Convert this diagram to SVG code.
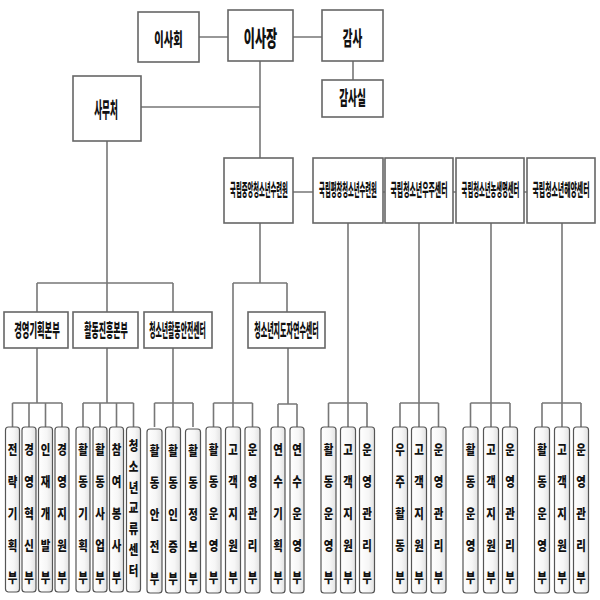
<svg xmlns="http://www.w3.org/2000/svg" width="600" height="600" viewBox="0 0 600 600">
<defs>
<linearGradient id="lg" x1="0" y1="0" x2="1" y2="0">
<stop offset="0" stop-color="#ffffff"/>
<stop offset="0.6" stop-color="#f6f6f6"/>
<stop offset="1" stop-color="#e2e2e2"/>
</linearGradient>
</defs>
<style>
.bx{fill:#fff;stroke:#666;stroke-width:1.6}
.lf{fill:url(#lg);stroke:#555;stroke-width:1.2}
.t{font-family:"Noto Sans CJK KR","Noto Sans",sans-serif;font-weight:900;fill:#111;text-anchor:middle}
.lt{font-family:"Noto Sans CJK KR","Noto Sans",sans-serif;font-weight:900;fill:#111;text-anchor:middle;font-size:13px}
.cn{fill:none;stroke:#777;stroke-width:1.6}
</style>
<rect width="600" height="600" fill="#fff"/>
<g id="connectors" class="cn">
<path d="M199,37 H228 M293,37 H322 M353,61 V80 M260,61 V158 M141,107 H260 M107,141 V312 M37,283 H173 M37,283 V312 M173,283 V312 M37,348 V403 M107,348 V403 M173,348 V427"/>
<path d="M260,223 V283 M233,283 H287 M233,283 V427 M287,283 V312 M288,348 V404"/>
<path d="M293,192 H313 M383,192 H385 M453,192 H456 M524,192 H527 M348,223 V427 M419,223 V427 M491,223 V427 M562,223 V427"/>
<path d="M12.5,403 H62 M12.5,403 V427 M29,403 V427 M45.5,403 V427 M62,403 V427"/>
<path d="M83,403 H133.5 M83,403 V427 M100,403 V427 M116.5,403 V427 M133.5,403 V427"/>
<path d="M154.5,403 H193 M154.5,403 V427 M193,403 V427"/>
<path d="M213.5,403 H252.5 M213.5,403 V427 M252.5,403 V427"/>
<path d="M278,404 H297 M278,404 V427 M297,404 V427"/>
<path d="M328.5,403 H367 M328.5,403 V427 M367,403 V427"/>
<path d="M400,403 H438.5 M400,403 V427 M438.5,403 V427"/>
<path d="M470.5,403 H510 M470.5,403 V427 M510,403 V427"/>
<path d="M542,403 H581 M542,403 V427 M581,403 V427"/>
</g>
<g id="n-board"><rect class="bx" x="138" y="12" width="61" height="50"/><text class="t" transform="translate(168.5,46) scale(0.57,1)" font-size="18">이사회</text></g>
<g id="n-chair"><rect class="bx" x="228" y="10" width="65" height="51"/><text class="t" transform="translate(260.5,46) scale(0.55,1)" font-size="22">이사장</text></g>
<g id="n-audit"><rect class="bx" x="322" y="10" width="61" height="51"/><text class="t" transform="translate(352.5,46) scale(0.53,1)" font-size="20">감사</text></g>
<g id="n-auditoffice"><rect class="bx" x="322" y="80" width="61" height="37"/><text class="t" transform="translate(352.5,105) scale(0.51,1)" font-size="19">감사실</text></g>
<g id="n-secretariat"><rect class="bx" x="73" y="76" width="68" height="65"/><text class="t" transform="translate(106,116.5) scale(0.41,1)" font-size="21">사무처</text></g>
<g id="n-central"><rect class="bx" x="224" y="158" width="69" height="65"/><text class="t" transform="translate(259,196) scale(0.37,1)" font-size="17">국립중앙청소년수련원</text></g>
<g id="n-pyeongchang"><rect class="bx" x="313" y="158" width="70" height="65"/><text class="t" transform="translate(348,196) scale(0.37,1)" font-size="17">국립평창청소년수련원</text></g>
<g id="n-space"><rect class="bx" x="385" y="158" width="68" height="65"/><text class="t" transform="translate(419,196) scale(0.405,1)" font-size="17">국립청소년우주센터</text></g>
<g id="n-agri"><rect class="bx" x="456" y="158" width="68" height="65"/><text class="t" transform="translate(490.5,196) scale(0.37,1)" font-size="17">국립청소년농생명센터</text></g>
<g id="n-ocean"><rect class="bx" x="527" y="158" width="68" height="65"/><text class="t" transform="translate(561,196) scale(0.405,1)" font-size="17">국립청소년해양센터</text></g>
<g id="n-mgmt"><rect class="bx" x="4" y="312" width="64" height="36"/><text class="t" transform="translate(37,336.5) scale(0.46,1)" font-size="18">경영기획본부</text></g>
<g id="n-activity"><rect class="bx" x="73" y="312" width="65" height="36"/><text class="t" transform="translate(106,336.5) scale(0.44,1)" font-size="18">활동진흥본부</text></g>
<g id="n-safety"><rect class="bx" x="144" y="312" width="68" height="36"/><text class="t" transform="translate(177.5,336.5) scale(0.38,1)" font-size="18">청소년활동안전센터</text></g>
<g id="n-training"><rect class="bx" x="248" y="312" width="77" height="36"/><text class="t" transform="translate(286.5,336.5) scale(0.39,1)" font-size="18">청소년지도자연수센터</text></g>
<g id="l1"><rect class="lf" x="5.5" y="427" width="14" height="165" rx="3"/><text class="lt" transform="translate(12.5,0) scale(0.8,1)"><tspan x="0" y="454">전</tspan><tspan x="0" y="486">략</tspan><tspan x="0" y="518">기</tspan><tspan x="0" y="550">획</tspan><tspan x="0" y="582">부</tspan></text></g>
<g id="l2"><rect class="lf" x="22" y="427" width="14" height="165" rx="3"/><text class="lt" transform="translate(29,0) scale(0.8,1)"><tspan x="0" y="454">경</tspan><tspan x="0" y="486">영</tspan><tspan x="0" y="518">혁</tspan><tspan x="0" y="550">신</tspan><tspan x="0" y="582">부</tspan></text></g>
<g id="l3"><rect class="lf" x="38.5" y="427" width="14" height="165" rx="3"/><text class="lt" transform="translate(45.5,0) scale(0.8,1)"><tspan x="0" y="454">인</tspan><tspan x="0" y="486">재</tspan><tspan x="0" y="518">개</tspan><tspan x="0" y="550">발</tspan><tspan x="0" y="582">부</tspan></text></g>
<g id="l4"><rect class="lf" x="55" y="427" width="14" height="165" rx="3"/><text class="lt" transform="translate(62,0) scale(0.8,1)"><tspan x="0" y="454">경</tspan><tspan x="0" y="486">영</tspan><tspan x="0" y="518">지</tspan><tspan x="0" y="550">원</tspan><tspan x="0" y="582">부</tspan></text></g>
<g id="l5"><rect class="lf" x="76" y="427" width="14" height="165" rx="3"/><text class="lt" transform="translate(83,0) scale(0.8,1)"><tspan x="0" y="454">활</tspan><tspan x="0" y="486">동</tspan><tspan x="0" y="518">기</tspan><tspan x="0" y="550">획</tspan><tspan x="0" y="582">부</tspan></text></g>
<g id="l6"><rect class="lf" x="93" y="427" width="14" height="165" rx="3"/><text class="lt" transform="translate(100,0) scale(0.8,1)"><tspan x="0" y="454">활</tspan><tspan x="0" y="486">동</tspan><tspan x="0" y="518">사</tspan><tspan x="0" y="550">업</tspan><tspan x="0" y="582">부</tspan></text></g>
<g id="l7"><rect class="lf" x="109.5" y="427" width="14" height="165" rx="3"/><text class="lt" transform="translate(116.5,0) scale(0.8,1)"><tspan x="0" y="454">참</tspan><tspan x="0" y="486">여</tspan><tspan x="0" y="518">봉</tspan><tspan x="0" y="550">사</tspan><tspan x="0" y="582">부</tspan></text></g>
<g id="l8"><rect class="lf" x="126.5" y="427" width="14" height="165" rx="3"/><text class="lt" transform="translate(133.5,0) scale(0.8,1)"><tspan x="0" y="450">청</tspan><tspan x="0" y="471">소</tspan><tspan x="0" y="492">년</tspan><tspan x="0" y="512.5">교</tspan><tspan x="0" y="533.5">류</tspan><tspan x="0" y="554.5">센</tspan><tspan x="0" y="575.5">터</tspan></text></g>
<g id="l9"><rect class="lf" x="147" y="429" width="15" height="164" rx="3"/><text class="lt" transform="translate(154.5,0) scale(0.8,1)"><tspan x="0" y="455.5">활</tspan><tspan x="0" y="487.5">동</tspan><tspan x="0" y="519.5">안</tspan><tspan x="0" y="551.5">전</tspan><tspan x="0" y="583.5">부</tspan></text></g>
<g id="l10"><rect class="lf" x="165.5" y="427" width="15" height="166" rx="3"/><text class="lt" transform="translate(173,0) scale(0.8,1)"><tspan x="0" y="455.5">활</tspan><tspan x="0" y="487.5">동</tspan><tspan x="0" y="519.5">인</tspan><tspan x="0" y="551.5">증</tspan><tspan x="0" y="583.5">부</tspan></text></g>
<g id="l11"><rect class="lf" x="185.5" y="429" width="15" height="164" rx="3"/><text class="lt" transform="translate(193,0) scale(0.8,1)"><tspan x="0" y="455.5">활</tspan><tspan x="0" y="487.5">동</tspan><tspan x="0" y="519.5">정</tspan><tspan x="0" y="551.5">보</tspan><tspan x="0" y="583.5">부</tspan></text></g>
<g id="l12"><rect class="lf" x="206" y="427" width="15" height="166" rx="3"/><text class="lt" transform="translate(213.5,0) scale(0.8,1)"><tspan x="0" y="454">활</tspan><tspan x="0" y="486">동</tspan><tspan x="0" y="518">운</tspan><tspan x="0" y="550">영</tspan><tspan x="0" y="582">부</tspan></text></g>
<g id="l13"><rect class="lf" x="225.5" y="427" width="15" height="166" rx="3"/><text class="lt" transform="translate(233,0) scale(0.8,1)"><tspan x="0" y="454">고</tspan><tspan x="0" y="486">객</tspan><tspan x="0" y="518">지</tspan><tspan x="0" y="550">원</tspan><tspan x="0" y="582">부</tspan></text></g>
<g id="l14"><rect class="lf" x="245" y="427" width="15" height="166" rx="3"/><text class="lt" transform="translate(252.5,0) scale(0.8,1)"><tspan x="0" y="454">운</tspan><tspan x="0" y="486">영</tspan><tspan x="0" y="518">관</tspan><tspan x="0" y="550">리</tspan><tspan x="0" y="582">부</tspan></text></g>
<g id="l15"><rect class="lf" x="271" y="427" width="14" height="166" rx="3"/><text class="lt" transform="translate(278,0) scale(0.8,1)"><tspan x="0" y="454">연</tspan><tspan x="0" y="486">수</tspan><tspan x="0" y="518">기</tspan><tspan x="0" y="550">획</tspan><tspan x="0" y="582">부</tspan></text></g>
<g id="l16"><rect class="lf" x="290" y="427" width="14" height="166" rx="3"/><text class="lt" transform="translate(297,0) scale(0.8,1)"><tspan x="0" y="454">연</tspan><tspan x="0" y="486">수</tspan><tspan x="0" y="518">운</tspan><tspan x="0" y="550">영</tspan><tspan x="0" y="582">부</tspan></text></g>
<g id="l17"><rect class="lf" x="321" y="427" width="15" height="166" rx="3"/><text class="lt" transform="translate(328.5,0) scale(0.8,1)"><tspan x="0" y="454">활</tspan><tspan x="0" y="486">동</tspan><tspan x="0" y="518">운</tspan><tspan x="0" y="550">영</tspan><tspan x="0" y="582">부</tspan></text></g>
<g id="l18"><rect class="lf" x="340.5" y="427" width="15" height="166" rx="3"/><text class="lt" transform="translate(348,0) scale(0.8,1)"><tspan x="0" y="454">고</tspan><tspan x="0" y="486">객</tspan><tspan x="0" y="518">지</tspan><tspan x="0" y="550">원</tspan><tspan x="0" y="582">부</tspan></text></g>
<g id="l19"><rect class="lf" x="359.5" y="427" width="15" height="166" rx="3"/><text class="lt" transform="translate(367,0) scale(0.8,1)"><tspan x="0" y="454">운</tspan><tspan x="0" y="486">영</tspan><tspan x="0" y="518">관</tspan><tspan x="0" y="550">리</tspan><tspan x="0" y="582">부</tspan></text></g>
<g id="l20"><rect class="lf" x="392.5" y="427" width="15" height="166" rx="3"/><text class="lt" transform="translate(400,0) scale(0.8,1)"><tspan x="0" y="454">우</tspan><tspan x="0" y="486">주</tspan><tspan x="0" y="518">활</tspan><tspan x="0" y="550">동</tspan><tspan x="0" y="582">부</tspan></text></g>
<g id="l21"><rect class="lf" x="411.5" y="427" width="15" height="166" rx="3"/><text class="lt" transform="translate(419,0) scale(0.8,1)"><tspan x="0" y="454">고</tspan><tspan x="0" y="486">객</tspan><tspan x="0" y="518">지</tspan><tspan x="0" y="550">원</tspan><tspan x="0" y="582">부</tspan></text></g>
<g id="l22"><rect class="lf" x="431" y="427" width="15" height="166" rx="3"/><text class="lt" transform="translate(438.5,0) scale(0.8,1)"><tspan x="0" y="454">운</tspan><tspan x="0" y="486">영</tspan><tspan x="0" y="518">관</tspan><tspan x="0" y="550">리</tspan><tspan x="0" y="582">부</tspan></text></g>
<g id="l23"><rect class="lf" x="463" y="427" width="15" height="166" rx="3"/><text class="lt" transform="translate(470.5,0) scale(0.8,1)"><tspan x="0" y="454">활</tspan><tspan x="0" y="486">동</tspan><tspan x="0" y="518">운</tspan><tspan x="0" y="550">영</tspan><tspan x="0" y="582">부</tspan></text></g>
<g id="l24"><rect class="lf" x="483.5" y="427" width="15" height="166" rx="3"/><text class="lt" transform="translate(491,0) scale(0.8,1)"><tspan x="0" y="454">고</tspan><tspan x="0" y="486">객</tspan><tspan x="0" y="518">지</tspan><tspan x="0" y="550">원</tspan><tspan x="0" y="582">부</tspan></text></g>
<g id="l25"><rect class="lf" x="502.5" y="427" width="15" height="166" rx="3"/><text class="lt" transform="translate(510,0) scale(0.8,1)"><tspan x="0" y="454">운</tspan><tspan x="0" y="486">영</tspan><tspan x="0" y="518">관</tspan><tspan x="0" y="550">리</tspan><tspan x="0" y="582">부</tspan></text></g>
<g id="l26"><rect class="lf" x="534.5" y="427" width="15" height="166" rx="3"/><text class="lt" transform="translate(542,0) scale(0.8,1)"><tspan x="0" y="454">활</tspan><tspan x="0" y="486">동</tspan><tspan x="0" y="518">운</tspan><tspan x="0" y="550">영</tspan><tspan x="0" y="582">부</tspan></text></g>
<g id="l27"><rect class="lf" x="554.5" y="427" width="15" height="166" rx="3"/><text class="lt" transform="translate(562,0) scale(0.8,1)"><tspan x="0" y="454">고</tspan><tspan x="0" y="486">객</tspan><tspan x="0" y="518">지</tspan><tspan x="0" y="550">원</tspan><tspan x="0" y="582">부</tspan></text></g>
<g id="l28"><rect class="lf" x="573.5" y="427" width="15" height="166" rx="3"/><text class="lt" transform="translate(581,0) scale(0.8,1)"><tspan x="0" y="454">운</tspan><tspan x="0" y="486">영</tspan><tspan x="0" y="518">관</tspan><tspan x="0" y="550">리</tspan><tspan x="0" y="582">부</tspan></text></g>
</svg>
